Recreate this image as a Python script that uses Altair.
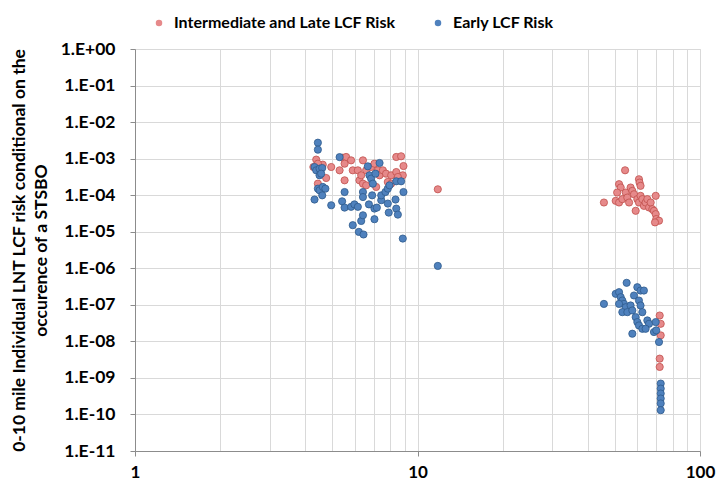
import altair as alt
import pandas as pd

# Intermediate and Late LCF risk (distance-independent cohort sets)
late_x = [4.38, 4.28, 4.62, 4.44, 4.95, 4.44, 4.75, 5.44, 5.59, 5.82, 5.30, 5.52,
          5.90, 6.15, 6.41, 6.23, 6.41, 6.58, 6.85, 7.04, 7.24, 7.34, 7.54, 7.74,
          7.85, 8.07, 8.41, 8.75, 8.92, 8.87, 8.41, 8.52, 8.07, 6.32, 5.52, 7.14,
          6.58, 11.8,
          54.3, 45.7, 60.8, 61.1, 61.6, 51.7, 52.4, 50.9, 50.3, 51.7, 53.1, 54.6,
          55.3, 56.8, 57.6, 58.4, 56.1, 59.2, 60.0, 60.8, 61.6, 62.5, 63.3, 64.2,
          65.1, 66.0, 66.9, 67.8, 68.7, 69.7, 69.7, 70.0, 71.6, 69.3,
          72.0, 72.6, 72.6, 72.0, 72.0]
late_y = [9.4e-4, 5.9e-4, 6.84e-4, 7.28e-4, 5.9e-4, 2.07e-4, 2.95e-4, 1.06e-3,
          1.11e-3, 8.98e-4, 4.79e-4, 7.28e-4, 4.79e-4, 4.79e-4, 8.98e-4, 2.55e-4,
          2.07e-4, 4.79e-4, 5.9e-4, 7.28e-4, 4.79e-4, 3.5e-4, 4.79e-4, 3.88e-4,
          2.3e-4, 3.5e-4, 1.11e-3, 1.16e-3, 6.28e-4, 3.5e-4, 4.3e-4, 3.15e-4,
          2.07e-4, 3.5e-4, 2.55e-4, 1.68e-4, 1.86e-4, 1.45e-4,
          4.8e-4, 6.3e-5, 2.73e-4, 2.21e-4, 1.8e-4, 2.0e-4, 1.62e-4, 1.18e-4,
          7.0e-5, 6.3e-5, 7.8e-5, 1.18e-4, 8.6e-5, 1.62e-4, 1.31e-4, 1.06e-4,
          6.3e-5, 3.74e-5, 7.8e-5, 6.3e-5, 9.6e-5, 7.8e-5, 5.1e-5, 6.3e-5,
          7.8e-5, 4.6e-5, 6.3e-5, 4.15e-5, 3.74e-5, 9.6e-5, 3.03e-5, 2.22e-5,
          2.0e-5, 1.8e-5,
          5.1e-8, 3.03e-8, 1.46e-8, 3.37e-9, 2.0e-9]

# Early LCF risk
early_x = [4.44, 4.44, 4.32, 4.38, 4.50, 4.60, 5.30, 4.50, 4.56, 4.44, 4.50,
           4.62, 4.72, 4.60, 4.32, 4.95, 5.52, 5.41, 5.52, 5.82, 5.98, 6.15,
           5.90, 6.20, 6.44, 6.32, 6.41, 6.67, 6.76, 6.85, 6.95, 6.41, 6.41,
           6.73, 6.91, 7.04, 7.18, 7.04, 7.34, 7.10, 7.44, 7.44, 7.70, 7.85,
           7.96, 7.85, 7.91, 8.36, 8.41, 8.52, 8.41, 8.75, 8.92, 8.87, 11.8,
           55.0, 45.7, 50.3, 51.7, 52.4, 53.1, 53.8, 54.6, 51.7, 53.1, 55.3,
           56.8, 57.6, 58.4, 60.0, 61.6, 63.3, 60.8, 61.6, 62.5, 59.2, 60.0,
           60.8, 62.5, 57.6, 65.1, 66.0, 64.2, 69.7, 68.7, 70.0, 71.6,
           72.6, 72.6, 72.6, 72.6, 72.6, 72.6]
early_y = [2.73e-3, 1.76e-3, 5.9e-4, 4.79e-4, 5.31e-4, 5.55e-4, 1.1e-3, 3.5e-4,
           3.88e-4, 1.51e-4, 1.36e-4, 1.68e-4, 1.51e-4, 9.9e-5, 7.6e-5, 5.3e-5,
           1.22e-4, 6.8e-5, 4.57e-5, 4.8e-5, 5.6e-5, 4.8e-5, 1.51e-5, 9.9e-6,
           8.4e-6, 1.97e-5, 2.82e-5, 6.16e-4, 3.5e-4, 2.84e-4, 2.07e-4, 1.22e-4,
           8.9e-5, 5.6e-5, 9.9e-5, 4.3e-5, 4.57e-5, 2.2e-5, 7.6e-4, 3.88e-4,
           7.3e-5, 9.9e-5, 1.22e-4, 1.51e-4, 1.86e-4, 5.9e-5, 3.34e-5, 7.6e-5,
           4.3e-5, 2.94e-5, 2.4e-4, 2.4e-4, 1.22e-4, 6.5e-6, 1.16e-6,
           4.0e-7, 1.06e-7, 2.0e-7, 2.22e-7, 1.62e-7, 1.31e-7, 1.06e-7, 8.6e-8,
           1.06e-7, 6.3e-8, 6.3e-8, 9.6e-8, 7.0e-8, 1.8e-7, 3.03e-7, 2.46e-7,
           2.46e-7, 1.31e-7, 9.6e-8, 6.3e-8, 4.6e-8, 3.37e-8, 2.73e-8, 2.21e-8,
           1.62e-8, 3.74e-8, 3.03e-8, 2.21e-8, 3.37e-8, 1.8e-8, 2.0e-8, 9.6e-9,
           7.0e-10, 5.1e-10, 3.74e-10, 2.73e-10, 2.0e-10, 1.31e-10]

series_names = ["Intermediate and Late LCF Risk", "Early LCF Risk"]
fill_colors = ["#E6898A", "#4F81BD"]
edge_colors = ["#C0504D", "#2F5A8C"]

x_ticks = [m * 10 ** k for k in range(2) for m in range(1, 10)] + [100]
y_ticks = [10.0 ** -k for k in range(0, 12)]

df = pd.concat([
    pd.DataFrame({"x": late_x, "y": late_y, "series": series_names[0]}),
    pd.DataFrame({"x": early_x, "y": early_y, "series": series_names[1]}),
], ignore_index=True)
df["order"] = range(len(df))

FONT = "Lato"
MAJOR = "datum.value == 1 || datum.value == 10 || datum.value == 100"

y_label = ("'1.E' + (datum.value >= 1 ? '+00' : '-' + "
           "(round(-log(datum.value)/LN10) < 10 ? '0' : '') + "
           "round(-log(datum.value)/LN10))")

chart = alt.Chart(df).mark_point(
    shape="circle", filled=True, size=52, strokeWidth=0.8, opacity=1
).encode(
    x=alt.X("x:Q",
            scale=alt.Scale(type="log", domain=[1, 100], nice=False),
            axis=alt.Axis(values=x_ticks, title=None, grid=True,
                          gridColor="#D9D9D9", gridWidth=1,
                          domainColor="#8C8C8C", tickColor="#8C8C8C",
                          tickSize=5,
                          tickOpacity={"condition": {"test": MAJOR, "value": 1}, "value": 0},
                          labelExpr=MAJOR + " ? datum.label : ''",
                          labelFont=FONT, labelFontSize=17, labelFontWeight="bold",
                          labelColor="#000000", labelPadding=8, labelFlush=False)),
    y=alt.Y("y:Q",
            scale=alt.Scale(type="log", domain=[1e-11, 1], nice=False),
            axis=alt.Axis(values=y_ticks, title=["0-10 mile Individual LNT LCF risk conditional on the",
                                                  "occurence of a STSBO"],
                          grid=True, gridColor="#D9D9D9", gridWidth=1,
                          domainColor="#8C8C8C", tickColor="#8C8C8C", tickSize=5,
                          labelExpr=y_label,
                          labelFont=FONT, labelFontSize=17.5, labelFontWeight="bold",
                          labelColor="#000000", labelPadding=15,
                          titleFont=FONT, titleFontSize=17.5, titleFontWeight="bold",
                          titleColor="#000000", titlePadding=10, titleLineHeight=22)),
    fill=alt.Fill("series:N",
                  scale=alt.Scale(domain=series_names, range=fill_colors),
                  legend=alt.Legend(title=None, orient="none", direction="horizontal",
                                    legendX=16, legendY=-34,
                                    symbolType="circle", symbolSize=42,
                                    symbolStrokeWidth=0,
                                    labelFont=FONT, labelFontSize=16,
                                    labelFontWeight="bold", labelColor="#000000",
                                    labelLimit=400,
                                    labelOffset=7, columnPadding=34)),
    stroke=alt.Stroke("series:N",
                      scale=alt.Scale(domain=series_names, range=edge_colors),
                      legend=None),
    order=alt.Order("order:Q"),
).properties(
    width=565,
    height=402,
    padding={"left": 135, "top": 49, "right": 19, "bottom": 33},
    autosize=alt.AutoSizeParams(type="none"),
).configure_view(
    stroke=None
).configure(
    background="#FFFFFF"
)

chart.save("out.html", embed_options={"renderer": "svg", "actions": False})
